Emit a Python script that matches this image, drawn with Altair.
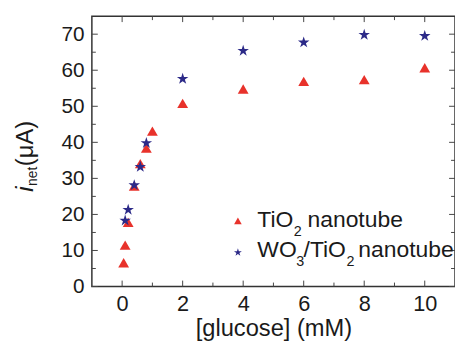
import altair as alt
import pandas as pd

# ---- data ----
conc_tio2 = [0.05, 0.1, 0.2, 0.4, 0.6, 0.8, 1.0, 2, 4, 6, 8, 10]
i_tio2 = [6.6, 11.5, 17.8, 27.9, 34.1, 38.4, 43.1, 50.8, 54.8, 56.9, 57.4, 60.7]
conc_wo3 = [0.1, 0.2, 0.4, 0.6, 0.8, 2, 4, 6, 8, 10]
i_wo3 = [18.3, 21.3, 28.1, 33.2, 39.8, 57.6, 65.4, 67.7, 69.8, 69.5]
series_names = ["TiO2 nanotube", "WO3/TiO2 nanotube"]

x_major = [0, 2, 4, 6, 8, 10]
x_minor = [1, 3, 5, 7, 9]
y_major = [0, 10, 20, 30, 40, 50, 60, 70]
y_minor = [5, 15, 25, 35, 45, 55, 65]

W, H = 368, 274
FONT = "Liberation Sans"
RED = "#e8322b"
BLUE = "#2c2a88"
STAR = ("M0,-1 L0.2245,-0.309 L0.951,-0.309 L0.363,0.118 L0.588,0.809 "
        "L0,0.382 L-0.588,0.809 L-0.363,0.118 L-0.951,-0.309 L-0.2245,-0.309 Z")

df = pd.DataFrame({
    "conc": conc_tio2 + conc_wo3,
    "i": i_tio2 + i_wo3,
    "series": [series_names[0]] * len(conc_tio2) + [series_names[1]] * len(conc_wo3),
})

xs = alt.Scale(domain=[-1, 11], nice=False, zero=False)
ys = alt.Scale(domain=[0, 75], nice=False, zero=False)

xaxis = alt.Axis(values=x_major, ticks=False, tickSize=0, domain=False, grid=False,
                 labelFontSize=22, labelFont=FONT, labelColor="#1a1a1a", labelPadding=7,
                 title="[glucose] (mM)", titleFont=FONT, titleFontSize=24,
                 titleFontWeight="normal", titleColor="#1a1a1a",
                 titleBaseline="alphabetic", titleY=50)
yaxis = alt.Axis(values=y_major, ticks=False, tickSize=0, domain=False, grid=False,
                 labelFontSize=21, labelFont=FONT, labelColor="#1a1a1a", labelPadding=8,
                 title=None)

points = alt.Chart(df).mark_point(filled=True, opacity=1, strokeWidth=0).encode(
    x=alt.X("conc:Q", scale=xs, axis=xaxis),
    y=alt.Y("i:Q", scale=ys, axis=yaxis),
    shape=alt.Shape("series:N", scale=alt.Scale(domain=series_names, range=["triangle-up", STAR]), legend=None),
    color=alt.Color("series:N", scale=alt.Scale(domain=series_names, range=[RED, BLUE]), legend=None),
    size=alt.Size("series:N", scale=alt.Scale(domain=series_names, range=[120, 150]), legend=None),
)

def tick_layer(vals, axis, length, side):
    d = pd.DataFrame({"conc": vals} if axis == "x" else {"i": vals})
    base = alt.Chart(d).mark_rule(color="#444", strokeWidth=1)
    if axis == "x":
        enc = dict(x=alt.X("conc:Q", scale=xs, axis=xaxis))
        if side == "bottom":
            enc.update(y=alt.value(H), y2=alt.value(H - length))
        else:
            enc.update(y=alt.value(0), y2=alt.value(length))
    else:
        enc = dict(y=alt.Y("i:Q", scale=ys, axis=yaxis))
        if side == "left":
            enc.update(x=alt.value(0), x2=alt.value(length))
        else:
            enc.update(x=alt.value(W), x2=alt.value(W - length))
    return base.encode(**enc)

ticks = []
for side in ["bottom", "top"]:
    ticks.append(tick_layer(x_major, "x", 6, side))
    ticks.append(tick_layer(x_minor, "x", 4, side))
for side in ["left", "right"]:
    ticks.append(tick_layer(y_major, "y", 6, side))
    ticks.append(tick_layer(y_minor, "y", 4, side))

one = pd.DataFrame({"k": [0]})

def txt(s, x, y, size, angle=0, style="normal", color="#1a1a1a"):
    kw = dict(font=FONT, fontSize=size, align="left", baseline="alphabetic", color=color, fontStyle=style)
    if angle:
        kw["angle"] = angle
    return alt.Chart(one).mark_text(**kw).encode(text=alt.value(s), x=alt.value(x), y=alt.value(y))

# y-axis title: i_net(uA), rotated
ytitle = [
    txt("i", -60, 178, 24, 270, "italic"),
    txt("net", -56, 172, 14, 270),
    txt("(\u03bcA)", -60, 152, 24, 270),
]

# legend
LS, SS = 23.2, 14.5
legend = [
    alt.Chart(one).mark_point(filled=True, opacity=1, strokeWidth=0, shape="triangle-up", size=60, color=RED)
      .encode(x=alt.value(148), y=alt.value(207.5)),
    alt.Chart(one).mark_point(filled=True, opacity=1, strokeWidth=0, shape=STAR, size=70, color=BLUE)
      .encode(x=alt.value(148), y=alt.value(239.5)),
    txt("TiO", 167.7, 213.3, LS),
    txt("2", 204.5, 222.5, SS),
    txt("nanotube", 218.5, 213.3, LS),
    txt("WO", 167.7, 244.5, LS),
    txt("3", 207, 253.7, SS),
    txt("/TiO", 214.5, 244.5, LS),
    txt("2", 258, 253.7, SS),
    txt("nanotube", 270, 244.5, LS),
]

chart = alt.layer(points, *ticks, *ytitle, *legend).properties(
    width=W, height=H,
    autosize=alt.AutoSizeParams(type="none"),
    padding={"left": 85, "top": 6, "right": 0, "bottom": 58},
    background="white",
).configure_view(stroke="#333", strokeWidth=1.5)

chart.save("out.html", embed_options={"renderer": "svg", "actions": False})
